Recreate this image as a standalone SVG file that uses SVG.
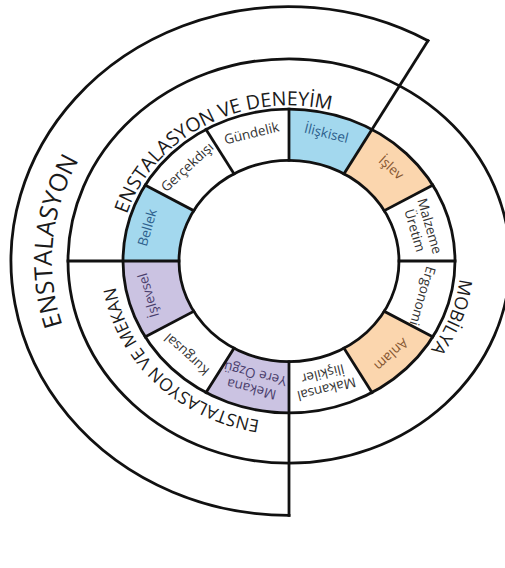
<svg xmlns="http://www.w3.org/2000/svg" width="505" height="568" viewBox="0 0 505 568">
<style>
.ln{fill:none;stroke:#111;stroke-width:2.8;stroke-linecap:square}
.blue{fill:#a3d8ee}
.orange{fill:#fbd6ae}
.purple{fill:#cbc3e2}
.lbl{font-family:"Open Sans","Noto Sans",sans-serif;font-size:13.5px;text-anchor:middle;fill:#333}
.tb{fill:#2d5f8c}
.to{fill:#85552f}
.tp{fill:#4a3e6c}
.big{font-family:"Open Sans","Noto Sans",sans-serif;fill:#1a1a1a;text-anchor:middle}
</style>
<defs>
<path id="pOuter" d="M 153.1,438.7 A 237 216.9 0 0 1 188.8,64.4"/>
<path id="pDeneyim" d="M 121.6,288 A 170 155.55 0 0 1 398.3,141.8"/>
<path id="pMekan" d="M 319.2,420.2 A 176 161.04 0 0 1 117.3,227.7"/>
<path id="pMobilya" d="M 418.2,158.5 A 170 155.55 0 0 1 319.8,414.6"/>
</defs>
<rect width="505" height="568" fill="#fff"/>
<g id="seg-iliskisel"><path class="blue" d="M 289,109.11 A 166 151.89 0 0 1 372,129.46 L 344,173.83 A 110 100.65 0 0 0 289,160.35 Z"/><text class="lbl tb" transform="translate(326.5,132.9) rotate(13.78)" y="5">İlişkisel</text></g>
<g id="seg-islev"><path class="orange" d="M 372,129.46 A 166 151.89 0 0 1 432.76,185.05 L 384.26,210.67 A 110 100.65 0 0 0 344,173.83 Z"/><text class="lbl to" transform="translate(391.5,167.2) rotate(42.45)" y="5">İşlev</text></g>
<g id="seg-malzeme"><text class="lbl" transform="translate(422.3,228.3) rotate(73.68)"><tspan x="0" y="-3">Malzeme</tspan><tspan x="0" y="12.5">Üretim</tspan></text></g>
<g id="seg-ergonomi"><text class="lbl" transform="translate(423,296) rotate(106.32)" y="5">Ergonomi</text></g>
<g id="seg-anlam"><path class="orange" d="M 432.76,336.95 A 166 151.89 0 0 1 372,392.54 L 344,348.17 A 110 100.65 0 0 0 384.26,311.33 Z"/><text class="lbl to" transform="translate(391.5,354.8) rotate(137.55)" y="5">Anlam</text></g>
<g id="seg-makansal"><text class="lbl" transform="translate(324.7,381.5) rotate(166.22)"><tspan x="0" y="-3">Makansal</tspan><tspan x="0" y="12.5">İlişkiler</tspan></text></g>
<g id="seg-mekana"><path class="purple" d="M 289,412.89 A 166 151.89 0 0 1 206,392.54 L 234,348.17 A 110 100.65 0 0 0 289,361.65 Z"/><text class="lbl tp" transform="translate(253.3,381.5) rotate(193.78)"><tspan x="0" y="-3">Mekana</tspan><tspan x="0" y="12.5">Yere Özgü</tspan></text></g>
<g id="seg-kurgusal"><text class="lbl" transform="translate(186.5,354.8) rotate(222.45)" y="5">Kurgusal</text></g>
<g id="seg-islevsel"><path class="purple" d="M 145.24,336.95 A 166 151.89 0 0 1 123,261 L 179,261 A 110 100.65 0 0 0 193.74,311.33 Z"/><text class="lbl tp" transform="translate(148,295.3) rotate(253.68)" y="5">İşlevsel</text></g>
<g id="seg-bellek"><path class="blue" d="M 123,261 A 166 151.89 0 0 1 145.24,185.05 L 193.74,210.67 A 110 100.65 0 0 0 179,261 Z"/><text class="lbl tb" transform="translate(147,227.5) rotate(-73.68)" y="5">Bellek</text></g>
<g id="seg-gercekdisi"><text class="lbl" transform="translate(187,166.7) rotate(-42.45)" y="5">Gerçekdışı</text></g>
<g id="seg-gundelik"><text class="lbl" transform="translate(251.5,132.9) rotate(-13.78)" y="5">Gündelik</text></g>
<g id="rings">
<ellipse class="ln" cx="289" cy="261" rx="110" ry="100.65"/>
<ellipse class="ln" cx="289" cy="261" rx="166" ry="151.89"/>
<ellipse class="ln" cx="289" cy="261" rx="221" ry="202.2"/>
<path class="ln" d="M 428,40.71 A 278 254.37 0 1 0 289,515.37"/>
</g>
<g id="cat-enstalasyon"><text class="big" font-size="25"><textPath href="#pOuter" startOffset="50%">ENSTALASYON</textPath></text></g>
<g id="cat-deneyim"><text class="big" font-size="19.5"><textPath href="#pDeneyim" startOffset="50%">ENSTALASYON VE DENEYİM</textPath></text></g>
<g id="cat-mekan"><text class="big" font-size="17.5"><textPath href="#pMekan" startOffset="50%">ENSTALASYON VE MEKAN</textPath></text></g>
<g id="cat-mobilya"><text class="big" font-size="18"><textPath href="#pMobilya" startOffset="50%">MOBİLYA</textPath></text></g>
<g id="connectors">
<line class="ln" x1="399" y1="261" x2="455" y2="261"/>
<line class="ln" x1="384.26" y1="210.67" x2="432.76" y2="185.05"/>
<line class="ln" x1="344" y1="173.83" x2="428" y2="40.71"/>
<line class="ln" x1="289" y1="160.35" x2="289" y2="109.11"/>
<line class="ln" x1="234" y1="173.83" x2="206" y2="129.46"/>
<line class="ln" x1="193.74" y1="210.67" x2="145.24" y2="185.05"/>
<line class="ln" x1="179" y1="261" x2="68" y2="261"/>
<line class="ln" x1="193.74" y1="311.33" x2="145.24" y2="336.95"/>
<line class="ln" x1="234" y1="348.17" x2="206" y2="392.54"/>
<line class="ln" x1="289" y1="361.65" x2="289" y2="515.37"/>
<line class="ln" x1="344" y1="348.17" x2="372" y2="392.54"/>
<line class="ln" x1="384.26" y1="311.33" x2="432.76" y2="336.95"/>
</g>
</svg>
